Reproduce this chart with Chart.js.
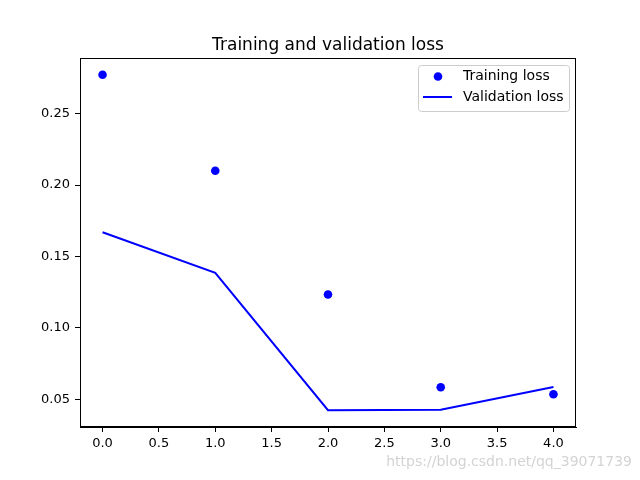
<!DOCTYPE html>
<html>
<head>
<meta charset="utf-8">
<script src="https://cdn.jsdelivr.net/npm/chart.js@4/dist/chart.umd.min.js"></script>
<style>
  html, body { margin: 0; padding: 0; background: #fff; }
  #wrap { width: 640px; height: 480px; position: relative; }
</style>
</head>
<body>
<div id="wrap"><canvas id="loss"></canvas></div>
<script>
  // values
  var epochs = [0, 1, 2, 3, 4];
  var trainingLoss = [0.2773, 0.2101, 0.1234, 0.0584, 0.0535];
  var validationLoss = [0.1670, 0.1385, 0.0423, 0.0427, 0.0586];
  var xTicks = [0.0, 0.5, 1.0, 1.5, 2.0, 2.5, 3.0, 3.5, 4.0];
  var yTicks = [0.05, 0.10, 0.15, 0.20, 0.25];

  var FONT = '"DejaVu Sans", sans-serif';

  // matplotlib style 5% margins
  var all = trainingLoss.concat(validationLoss);
  var yLo = Math.min.apply(null, all), yHi = Math.max.apply(null, all);
  var yPad = (yHi - yLo) * 0.05;
  var xPad = (epochs[epochs.length - 1] - epochs[0]) * 0.05;

  var frameAndExtras = {
    id: 'frameAndExtras',
    afterDraw: function(chart) {
      var ctx = chart.ctx, a = chart.chartArea;
      ctx.save();
      // axes box
      ctx.strokeStyle = '#000';
      ctx.lineWidth = 1;
      ctx.strokeRect(a.left + 0.5, a.top + 0.5, a.right - a.left - 1, a.bottom - a.top - 1);

      // title
      ctx.fillStyle = '#000';
      ctx.font = '17px ' + FONT;
      ctx.textAlign = 'center';
      ctx.textBaseline = 'alphabetic';
      ctx.fillText('Training and validation loss', (a.left + a.right) / 2, 50);

      // legend box
      var lx = 418.5, ly = 65.5, lw = 151, lh = 46, r = 3;
      ctx.beginPath();
      ctx.moveTo(lx + r, ly);
      ctx.arcTo(lx + lw, ly, lx + lw, ly + lh, r);
      ctx.arcTo(lx + lw, ly + lh, lx, ly + lh, r);
      ctx.arcTo(lx, ly + lh, lx, ly, r);
      ctx.arcTo(lx, ly, lx + lw, ly, r);
      ctx.closePath();
      ctx.fillStyle = 'rgba(255,255,255,0.8)';
      ctx.fill();
      ctx.strokeStyle = '#cccccc';
      ctx.stroke();

      ctx.fillStyle = '#0000ff';
      ctx.beginPath();
      ctx.arc(438, 76.5, 4.3, 0, Math.PI * 2);
      ctx.fill();
      ctx.strokeStyle = '#0000ff';
      ctx.lineWidth = 2;
      ctx.beginPath();
      ctx.moveTo(423, 97);
      ctx.lineTo(452, 97);
      ctx.stroke();

      ctx.fillStyle = '#000';
      ctx.font = '14px ' + FONT;
      ctx.textAlign = 'left';
      ctx.textBaseline = 'middle';
      ctx.fillText('Training loss', 463, 76);
      ctx.fillText('Validation loss', 463, 97);

      // watermark
      ctx.fillStyle = 'rgba(200,200,200,0.8)';
      ctx.font = '14px ' + FONT;
      ctx.textAlign = 'right';
      ctx.fillText('https://blog.csdn.net/qq_39071739', 632, 462);
      ctx.restore();
    }
  };

  var lossChart = new Chart(document.getElementById('loss'), {
    type: 'scatter',
    data: {
      datasets: [{
        label: 'Training loss',
        data: epochs.map(function(e, i) { return { x: e, y: trainingLoss[i] }; }),
        showLine: false,
        pointRadius: 4.3,
        pointBackgroundColor: '#0000ff',
        pointBorderWidth: 0,
        borderColor: '#0000ff'
      }, {
        label: 'Validation loss',
        data: epochs.map(function(e, i) { return { x: e, y: validationLoss[i] }; }),
        showLine: true,
        pointRadius: 0,
        borderColor: '#0000ff',
        borderWidth: 2,
        tension: 0
      }]
    },
    options: {
      responsive: true,
      maintainAspectRatio: false,
      animation: false,
      devicePixelRatio: 1,
      layout: { padding: { top: 58, right: 64, left: 0, bottom: 0 } },
      plugins: {
        legend: { display: false },
        title: { display: false },
        tooltip: { enabled: false }
      },
      scales: {
        x: {
          type: 'linear',
          min: epochs[0] - xPad,
          max: epochs[epochs.length - 1] + xPad,
          afterFit: function(s) { s.height = 53; },
          afterBuildTicks: function(s) { s.ticks = xTicks.map(function(v) { return { value: v }; }); },
          grid: { drawOnChartArea: false, drawTicks: true, tickLength: 5, tickColor: '#000' },
          border: { display: true, color: '#000' },
          ticks: {
            color: '#000', padding: 4, maxRotation: 0, autoSkip: false,
            font: { family: FONT, size: 13 },
            callback: function(v) { return Number(v).toFixed(1); }
          }
        },
        y: {
          type: 'linear',
          min: yLo - yPad,
          max: yHi + yPad,
          afterFit: function(s) { s.width = 80; },
          afterBuildTicks: function(s) { s.ticks = yTicks.map(function(v) { return { value: v }; }); },
          grid: { drawOnChartArea: false, drawTicks: true, tickLength: 5, tickColor: '#000' },
          border: { display: true, color: '#000' },
          ticks: {
            color: '#000', padding: 5, autoSkip: false,
            font: { family: FONT, size: 13 },
            callback: function(v) { return Number(v).toFixed(2); }
          }
        }
      }
    },
    plugins: [frameAndExtras]
  });
</script>
</body>
</html>
